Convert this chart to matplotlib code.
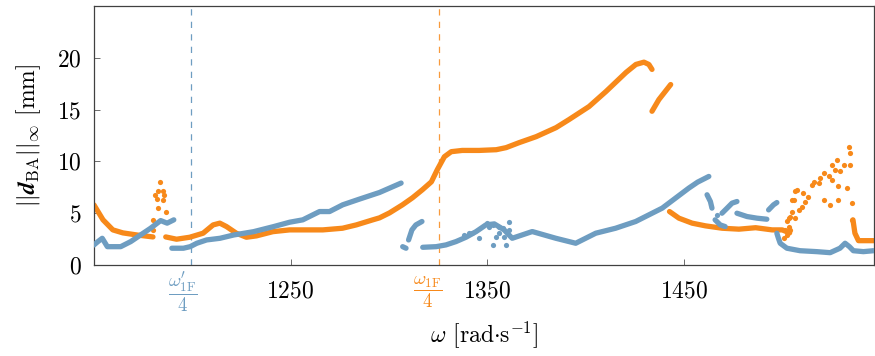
import numpy as np
import matplotlib
matplotlib.use("Agg")
import matplotlib.pyplot as plt
import matplotlib.transforms as mtransforms

plt.rcParams["font.family"] = "serif"
plt.rcParams["font.serif"] = ["cmr10"]
plt.rcParams["mathtext.fontset"] = "cm"
plt.rcParams["axes.unicode_minus"] = False
plt.rcParams["axes.formatter.use_mathtext"] = True

ORANGE = "#f7891a"
BLUE = "#6e9dc1"

# frequencies of the two first flexural modes (divided by 4)
w1f_prime_4 = 1199.2
w1f_4 = 1325.3

# continuous branches, orange configuration  (omega, ||d_BA||)
orange_branches = [
    ([1150.0, 1154.6, 1159.6, 1164.7, 1171.8, 1180.0],
     [5.80, 4.36, 3.39, 3.10, 2.90, 2.71]),
    ([1186.5, 1192.0, 1198.7, 1205.5, 1210.6, 1214.0, 1217.4, 1222.4, 1227.5, 1232.6,
      1241.0, 1249.5, 1266.4, 1276.4, 1283.4, 1291.8, 1295.2, 1300.3, 1306.9, 1312.0,
      1317.0, 1321.6, 1324.6, 1328.2, 1331.7, 1337.3, 1345.9, 1354.6, 1359.6, 1366.2,
      1374.9, 1385.0, 1391.6, 1401.8, 1410.4, 1420.6, 1425.6, 1429.7, 1432.2, 1433.8],
     [2.71, 2.49, 2.68, 3.07, 3.87, 4.04, 3.71, 3.07, 2.68, 2.81,
      3.22, 3.39, 3.39, 3.55, 3.87, 4.36, 4.55, 5.03, 5.81, 6.49,
      7.26, 8.03, 9.20, 10.45, 10.94, 11.06, 11.06, 11.13, 11.33, 11.81,
      12.39, 13.26, 14.04, 15.30, 16.75, 18.59, 19.36, 19.58, 19.36, 18.88]),
    ([1433.8, 1437.3, 1443.3],
     [14.84, 15.97, 17.42]),
    ([1442.7, 1447.5, 1454.2, 1461.0, 1469.5, 1478.0, 1486.5, 1494.9, 1500.0, 1503.8],
     [5.16, 4.52, 4.04, 3.78, 3.55, 3.46, 3.60, 3.39, 3.39, 3.10]),
    ([1536.0, 1537.0, 1538.8, 1546.5],
     [4.36, 3.07, 2.35, 2.35]),
]

# isolated orange points
orange_pts_x = [1183.5, 1181.0, 1182.6, 1185.2, 1185.5, 1181.8, 1184.9, 1182.6, 1186.5, 1180.1, 1180.1,
                1533.8, 1534.6, 1527.8, 1525.3, 1531.2, 1534.6, 1527.0, 1529.5, 1521.1, 1523.6,
                1525.3, 1519.4, 1516.0, 1518.5, 1515.0, 1532.8, 1528.6, 1507.4, 1510.8, 1513.3,
                1521.1, 1528.6, 1524.4, 1535.4, 1505.8, 1511.8, 1510.1, 1508.4, 1505.0, 1506.7,
                1503.3, 1535.4, 1503.3, 1501.6, 1504.1, 1502.4, 1500.8, 1506.7, 1505.0, 1504.1, 1502.4]
orange_pts_y = [8.06, 6.78, 7.10, 7.10, 6.78, 6.40, 6.30, 5.50, 5.16, 4.36, 3.40,
                11.39, 10.81, 10.16, 9.68, 9.68, 9.68, 9.20, 9.03, 8.88, 8.55,
                8.23, 8.39, 8.06, 7.91, 7.74, 7.42, 7.58, 7.26, 6.94, 6.61,
                6.29, 6.29, 5.81, 5.97, 6.29, 6.13, 5.64, 5.32, 5.16, 4.52,
                4.52, 4.36, 3.71, 3.39, 3.39, 2.90, 2.58, 7.10, 6.29, 4.68, 4.20]

# continuous branches, blue configuration
blue_branches = [
    ([1150.0, 1152.0, 1154.2, 1156.8, 1163.6, 1168.7, 1173.7, 1178.8, 1183.9, 1187.2, 1190.6],
     [1.94, 2.26, 2.58, 1.77, 1.77, 2.26, 2.90, 3.55, 4.29, 4.04, 4.36]),
    ([1189.6, 1195.5, 1198.9, 1202.3, 1207.3, 1214.1, 1221.1, 1231.2, 1241.4, 1249.5,
      1256.2, 1264.7, 1269.8, 1276.5, 1285.0, 1295.2, 1306.2],
     [1.62, 1.62, 1.77, 2.10, 2.42, 2.58, 2.90, 3.22, 3.71, 4.13,
      4.36, 5.16, 5.16, 5.81, 6.36, 7.00, 7.91]),
    ([1307.0, 1308.7],
     [1.77, 1.62]),
    ([1310.0, 1311.7, 1313.7, 1316.8],
     [2.42, 3.39, 3.87, 4.20]),
    ([1317.2, 1324.0, 1329.0, 1334.1, 1339.2, 1344.3, 1349.3, 1353.6, 1358.6, 1362.7,
      1372.9, 1384.9, 1395.0, 1405.2, 1415.3, 1425.5, 1439.0, 1452.5, 1457.0, 1462.7],
     [1.71, 1.77, 1.94, 2.26, 2.68, 3.22, 3.87, 3.97, 3.39, 2.58,
      3.23, 2.58, 2.10, 3.07, 3.55, 4.20, 5.49, 7.42, 8.00, 8.55]),
    ([1461.8, 1463.5, 1464.3],
     [6.78, 6.13, 5.49]),
    ([1465.9, 1468.5, 1471.0],
     [4.36, 3.87, 3.71]),
    ([1469.4, 1472.0, 1474.5, 1477.0],
     [5.00, 5.49, 5.97, 6.13]),
    ([1477.0, 1482.1, 1487.2, 1492.2],
     [5.00, 4.68, 4.52, 4.42]),
    ([1493.1, 1495.6, 1497.3],
     [5.32, 5.81, 6.03]),
    ([1497.3, 1498.1, 1499.0, 1502.4, 1509.1, 1517.6, 1524.4, 1529.4, 1532.0, 1534.2,
      1536.2, 1541.3, 1546.5],
     [3.07, 2.58, 2.10, 1.62, 1.38, 1.29, 1.19, 1.62, 2.10, 1.77,
      1.38, 1.29, 1.38]),
]

# isolated blue points (unsteady zone just after w1F/4)
blue_pts_x = [1352.7, 1354.4, 1352.7, 1357.8, 1358.6, 1359.5, 1361.2, 1361.2, 1350.0, 1345.9,
              1340.9, 1338.3, 1342.5, 1351.0, 1356.1, 1356.1, 1467.0]
blue_pts_y = [3.87, 2.74, 1.94, 3.55, 2.74, 1.94, 4.19, 3.39, 4.09, 2.58,
              3.07, 2.90, 3.07, 3.71, 3.71, 3.07, 4.80]

fig = plt.figure(figsize=(8.75, 3.56), dpi=100)
ax = fig.add_axes([0.1074, 0.2556, 0.891, 0.7275])

lw = 3.8
for xs, ys in orange_branches:
    ax.plot(xs, ys, color=ORANGE, lw=lw, solid_capstyle="round", solid_joinstyle="round", zorder=2)
ax.scatter(orange_pts_x, orange_pts_y, s=14, color=ORANGE, lw=0, zorder=2)

for xs, ys in blue_branches:
    ax.plot(xs, ys, color=BLUE, lw=lw, solid_capstyle="round", solid_joinstyle="round", zorder=3)
ax.scatter(blue_pts_x, blue_pts_y, s=14, color=BLUE, lw=0, zorder=3)

ax.axvline(w1f_prime_4, color=BLUE, lw=0.9, ls=(0, (5, 5)), zorder=1)
ax.axvline(w1f_4, color=ORANGE, lw=0.9, ls=(0, (5, 5)), alpha=0.85, zorder=1)

ax.set_xlim(1150, 1546.5)
ax.set_ylim(0, 25)
ax.set_xticks([1250, 1350, 1450])
ax.set_yticks([0, 5, 10, 15, 20])
ax.tick_params(direction="in", length=4, width=0.6, color="#555555", labelsize=17)
ax.tick_params(axis="x", pad=11)
ax.tick_params(axis="y", pad=9)
for s in ax.spines.values():
    s.set_color("#404040")
    s.set_linewidth(0.9)

trans = mtransforms.blended_transform_factory(ax.transData, ax.transAxes)
ax.text(1195.5, -0.105, r"$\dfrac{\omega_{1\mathrm{F}}'}{4}$", color=BLUE, fontsize=13.5,
        ha="center", va="center", transform=trans)
ax.text(1320.0, -0.105, r"$\dfrac{\omega_{1\mathrm{F}}}{4}$", color=ORANGE, fontsize=13.5,
        ha="center", va="center", transform=trans)

ax.set_xlabel(r"$\omega$ [rad$\cdot$s$^{-1}$]", fontsize=17, labelpad=12)
ax.set_ylabel(r"$||\boldsymbol{d}_{\mathrm{BA}}||_\infty$ [mm]", fontsize=17, labelpad=10)

fig.savefig("out.png", dpi=100)
